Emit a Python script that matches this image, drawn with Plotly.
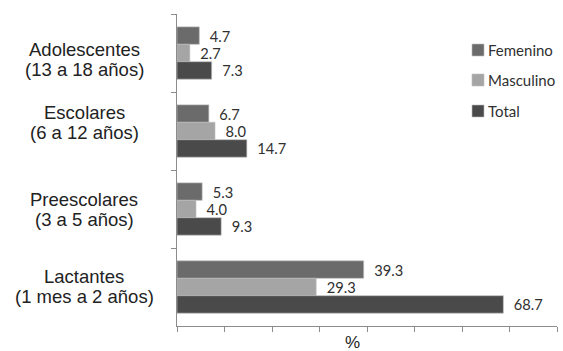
import plotly.graph_objects as go

categories = ["Adolescentes", "Escolares", "Preescolares", "Lactantes"]
label_line1 = ["Adolescentes", "Escolares", "Preescolares", "Lactantes"]
label_line2 = ["(13 a 18 años)", "(6 a 12 años)", "(3 a 5 años)", "(1 mes a 2 años)"]
femenino = [4.7, 6.7, 5.3, 39.3]
masculino = [2.7, 8.0, 4.0, 29.3]
total = [7.3, 14.7, 9.3, 68.7]
series_names = ["Femenino", "Masculino", "Total"]
colors = ["#6b6b6b", "#a5a5a5", "#4a4a4a"]

# plot area in pixels
L, R, T, B = 177, 557, 14, 326
W, H = 563, 351
def px_x(p):
    return (p - L) / (R - L)
def px_y(p):
    return (B - p) / (B - T)

fig = go.Figure()
for name, vals, col in zip(series_names, [femenino, masculino, total], colors):
    fig.add_trace(go.Bar(
        y=categories, x=vals, name=name, orientation="h",
        marker=dict(color=col, line=dict(color="#bdbdbd", width=0.6)),
        text=["  " + f"{v:.1f}" for v in vals], textposition="outside",
        textfont=dict(family="Lato", size=16, color="#303030"),
        cliponaxis=False, showlegend=False,
    ))

# category labels (two lines each, tighter line spacing as in the reference)
label_centers = [49, 112, 199, 276]
for l1, l2, cy in zip(label_line1, label_line2, label_centers):
    for txt, yy in ((l1, cy), (l2, cy + 20.5)):
        fig.add_annotation(x=px_x(84), xref="paper", y=px_y(yy), yref="paper", text=txt,
                           showarrow=False, xanchor="center", yanchor="middle",
                           font=dict(family="Arial", size=18.5, color="#222222"))

fig.add_annotation(x=px_x(352), xref="paper", y=px_y(342), yref="paper", text="%",
                   showarrow=False, xanchor="center", yanchor="middle",
                   font=dict(family="Arial", size=17, color="#222222"))

# legend (drawn manually for exact placement)
legend_y = [50, 80, 111]
for name, col, py in zip(series_names, colors, legend_y):
    fig.add_shape(type="rect", xref="paper", yref="paper",
                  x0=px_x(472), x1=px_x(484), y0=px_y(py + 6), y1=px_y(py - 6),
                  fillcolor=col, line=dict(color="#bdbdbd", width=0.6))
    fig.add_annotation(x=px_x(486), xref="paper", y=px_y(py), yref="paper", text=name,
                       showarrow=False, xanchor="left", yanchor="middle",
                       font=dict(family="Lato", size=15, color="#303030"))

fig.update_layout(
    width=W, height=H,
    margin=dict(l=L, r=W - R, t=T, b=H - B),
    paper_bgcolor="white", plot_bgcolor="white",
    barmode="group", bargap=0.33, bargroupgap=0,
    showlegend=False,
    xaxis=dict(range=[0, 80], dtick=10, showticklabels=False, showgrid=False,
               zeroline=False, showline=True, linecolor="#8c8c8c", linewidth=1,
               ticks="outside", ticklen=5, tickcolor="#8c8c8c"),
    yaxis=dict(autorange="reversed", showticklabels=False, showgrid=False,
               showline=True, linecolor="#8c8c8c", linewidth=1,
               ticks="outside", ticklen=5, tickcolor="#8c8c8c", tickson="boundaries"),
)

fig.write_html("out.html")
